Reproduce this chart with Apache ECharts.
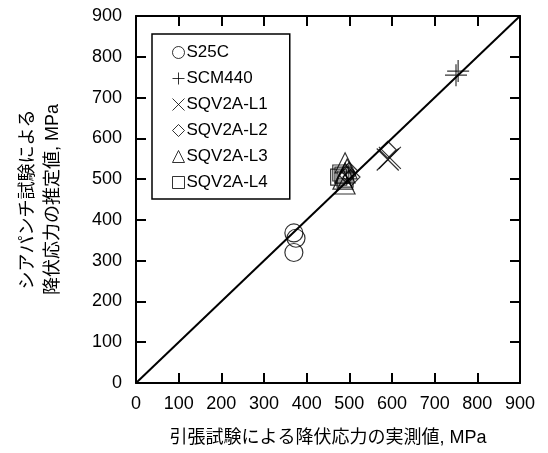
<!DOCTYPE html>
<html><head><meta charset="utf-8">
<script src="https://cdn.jsdelivr.net/npm/echarts@6/dist/echarts.min.js"></script>
<style>html,body{margin:0;padding:0;background:#fff}#c{width:548px;height:453px}</style>
</head><body><div id="c"></div>
<script>
const xTicks = [0,100,200,300,400,500,600,700,800,900];
const yTicks = [0,100,200,300,400,500,600,700,800,900];
const seriesNames = ['S25C','SCM440','SQV2A-L1','SQV2A-L2','SQV2A-L3','SQV2A-L4'];
const s25c = [[370,368],[375,355],[370,320]];
const scm440 = [[750,755],[755,765]];
const sqvL1 = [[590,548],[595,552]];
const sqvL2 = [[495,510],[500,520],[505,505],[590,572]];
const sqvL3 = [[490,540],[485,500],[490,515],[495,525],[490,488]];
const sqvL4 = [[475,505],[480,515],[490,500],[485,510]];
const diag = [[0,0],[900,900]];

const FONT = "'Liberation Sans', 'Noto Sans CJK JP', sans-serif";
const plusPath = 'path://M0,5L10,5M5,0L5,10';
const crossPath = 'path://M0,0L10,10M0,10L10,0';
const symbols = ['circle', plusPath, crossPath, 'diamond', 'triangle', 'rect'];
const sizes = [18, 22, 22, 17, 20, 16];
const datas = [s25c, scm440, sqvL1, sqvL2, sqvL3, sqvL4];
const TICK = 10;

const chart = echarts.init(document.getElementById('c'));
function axisBase(pos, labels) {
  return {
    type: 'value', min: xTicks[0], max: xTicks[xTicks.length - 1], interval: 100, position: pos,
    axisLine: {show: true, onZero: false, lineStyle: {color: '#000', width: 2}},
    axisTick: {show: true, inside: true, length: TICK, lineStyle: {color: '#000', width: 2, opacity: 1}},
    splitLine: {show: false},
    axisLabel: labels ? {show: true, color: '#000', fontSize: 18, margin: pos === 'left' ? 14 : 12, fontFamily: FONT} : {show: false}
  };
}
const xb = axisBase('bottom', true);
xb.name = '引張試験による降伏応力の実測値, MPa';
xb.nameLocation = 'middle'; xb.nameGap = 46;
xb.nameTextStyle = {color: '#000', fontSize: 18, fontFamily: FONT};
const yl = axisBase('left', true);
yl.name = 'シアパンチ試験による\n降伏応力の推定値, MPa';
yl.nameLocation = 'middle'; yl.nameGap = 70; yl.nameRotate = 90;
yl.nameTextStyle = {color: '#000', fontSize: 18, lineHeight: 25, fontFamily: FONT};

chart.setOption({
  animation: false,
  textStyle: {fontFamily: FONT},
  grid: {left: 136, right: 28, top: 16, bottom: 70, containLabel: false},
  xAxis: [xb, axisBase('top', false)],
  yAxis: [yl, axisBase('right', false)],
  legend: {
    orient: 'vertical', left: 152, top: 34,
    padding: [10, 22, 8, 18],
    borderColor: '#000', borderWidth: 1.5, backgroundColor: '#fff',
    itemWidth: 12, itemHeight: 12, itemGap: 9,
    textStyle: {color: '#000', fontSize: 17, fontFamily: FONT, padding: [0,0,0,-3]},
    data: seriesNames.map((n, i) => ({name: n, icon: symbols[i],
      itemStyle: {color: 'none', borderColor: '#000', borderWidth: 1}}))
  },
  series: [
    {type: 'line', data: diag, showSymbol: false, symbol: 'none', silent: true,
     xAxisIndex: 0, yAxisIndex: 0, lineStyle: {color: '#000', width: 2}, z: 1}
  ].concat(datas.map((d, i) => ({
    name: seriesNames[i], type: 'scatter', data: d, xAxisIndex: 0, yAxisIndex: 0,
    symbol: symbols[i], symbolSize: sizes[i],
    itemStyle: {color: 'none', borderColor: '#000', borderWidth: 1.2},
    z: 3
  })))
});
</script></body></html>
